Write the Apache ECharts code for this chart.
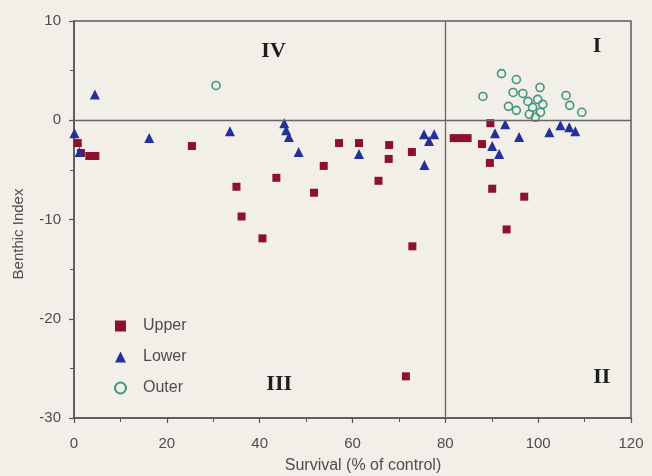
<!DOCTYPE html>
<html>
<head>
<meta charset="utf-8">
<script src="https://cdn.jsdelivr.net/npm/echarts@6/dist/echarts.min.js"></script>
<style>
  html, body { margin: 0; padding: 0; background: #f2eee8; }
  #chart { width: 652px; height: 476px; }
</style>
</head>
<body>
<div id="chart"></div>
<script>
// Survival (% of control) vs. Benthic Index, grouped by sampling zone
const upper = [
  [0.8, -2.3], [1.5, -3.3], [3.3, -3.6], [4.6, -3.6],
  [25.4, -2.6], [35.0, -6.7], [36.1, -9.7], [40.6, -11.9], [43.6, -5.8],
  [51.7, -7.3], [53.8, -4.6], [57.1, -2.3], [61.4, -2.3], [67.9, -2.5],
  [67.8, -3.9], [65.6, -6.1], [72.8, -3.2], [72.9, -12.7], [71.5, -25.8],
  [89.7, -0.3], [81.8, -1.8], [83.3, -1.8], [84.8, -1.8], [87.9, -2.4],
  [89.6, -4.3], [90.1, -6.9], [97.0, -7.7], [93.2, -11.0]
];
const lower = [
  [4.5, 2.6], [0.1, -1.3], [1.2, -3.2], [16.2, -1.8], [33.6, -1.1],
  [45.3, -0.3], [45.7, -1.0], [46.3, -1.7], [48.4, -3.2], [61.4, -3.4],
  [75.4, -1.4], [77.6, -1.4], [76.5, -2.1], [75.5, -4.5],
  [92.9, -0.4], [90.7, -1.3], [90.1, -2.6], [91.6, -3.4], [95.9, -1.7],
  [102.4, -1.2], [104.8, -0.5], [106.7, -0.7], [108.0, -1.1]
];
const outer = [
  [30.6, 3.5], [92.1, 4.7], [95.3, 4.1], [88.1, 2.4], [100.4, 3.3],
  [106.0, 2.5], [106.8, 1.5], [109.4, 0.8], [93.6, 1.4], [95.3, 1.0],
  [94.6, 2.8], [96.7, 2.7], [97.8, 1.9], [98.8, 1.3], [99.9, 2.1],
  [100.5, 0.8], [98.1, 0.6], [99.4, 0.3], [101.0, 1.6]
];
const seriesNames = ['Upper', 'Lower', 'Outer'];
const xRange = { min: 0, max: 120, step: 20 };
const yRange = { min: -30, max: 10, step: 10 };
const survivalCut = 80;   // vertical divider
const indexCut = 0;       // horizontal divider
const quadrantNames = ['I', 'II', 'III', 'IV'];
const xTitle = 'Survival (% of control)';
const yTitle = 'Benthic Index';

const axisColor = '#555';
const sansFont = '"Liberation Sans", Arial, sans-serif';

const chart = echarts.init(document.getElementById('chart'), null, { renderer: 'canvas' });

function axisCommon(labelMargin) {
  return {
    type: 'value',
    axisLine: { show: true, onZero: false, lineStyle: { color: axisColor, width: 1.5 } },
    axisTick: { show: true, inside: false, length: 5, lineStyle: { color: axisColor, width: 1.2 } },
    minorTick: { show: true, splitNumber: 2, length: 4, lineStyle: { color: axisColor, width: 1 } },
    splitLine: { show: false },
    axisLabel: { color: '#4d4d4d', fontSize: 15, fontFamily: sansFont, margin: labelMargin }
  };
}

const option = {
  animation: false,
  backgroundColor: '#f2eee8',
  grid: {
    left: 74, top: 21, width: 557, height: 397,
    show: true, borderColor: '#5c5c5c', borderWidth: 1.5, backgroundColor: 'transparent'
  },
  xAxis: Object.assign(axisCommon(18), {
    min: xRange.min, max: xRange.max, interval: xRange.step
  }),
  yAxis: Object.assign(axisCommon(13), {
    min: yRange.min, max: yRange.max, interval: yRange.step
  }),
  legend: {
    orient: 'vertical',
    left: 109, top: 313,
    itemWidth: 11, itemHeight: 11, itemGap: 15,
    textStyle: { color: '#4d4d4d', fontSize: 16, fontFamily: sansFont, padding: [0, 0, 0, 12] },
    data: seriesNames
  },
  series: [
    {
      name: seriesNames[0], type: 'scatter', data: upper,
      symbol: 'rect', symbolSize: 8,
      itemStyle: { color: '#8c1030', opacity: 1 },
      markLine: {
        silent: true, symbol: ['none', 'none'], label: { show: false },
        lineStyle: { color: '#666', width: 1.3, type: 'solid' },
        data: [{ xAxis: survivalCut }, { yAxis: indexCut }]
      }
    },
    {
      name: seriesNames[1], type: 'scatter', data: lower,
      symbol: 'triangle', symbolSize: 10,
      itemStyle: { color: '#23309a', opacity: 1 }
    },
    {
      name: seriesNames[2], type: 'scatter', data: outer,
      symbol: 'circle', symbolSize: 8,
      itemStyle: { color: 'transparent', borderColor: '#3f9580', borderWidth: 1.6, opacity: 1 }
    }
  ]
};

chart.setOption(option);

// Quadrant labels (data-space anchors) and axis titles
const quadrantAnchors = { I: [112.7, 7.5], II: [113.7, -25.9], III: [44.2, -26.6], IV: [43.0, 6.9] };
const graphics = quadrantNames.map(function (q) {
  const p = chart.convertToPixel({ gridIndex: 0 }, quadrantAnchors[q]);
  return {
    type: 'text', x: p[0], y: p[1], silent: true,
    style: {
      text: q, fill: '#1e1e1e', font: 'bold 22px "Liberation Serif", "Times New Roman", serif',
      textAlign: 'center', textVerticalAlign: 'middle'
    }
  };
});
graphics.push({
  type: 'text', x: 363, y: 466, silent: true,
  style: { text: xTitle, fill: '#4d4d4d', font: '16px ' + sansFont, textAlign: 'center', textVerticalAlign: 'middle' }
});
graphics.push({
  type: 'text', x: 19, y: 234, rotation: Math.PI / 2, silent: true,
  style: { text: yTitle, fill: '#4d4d4d', font: '15px ' + sansFont, textAlign: 'center', textVerticalAlign: 'middle' }
});
chart.setOption({ graphic: graphics });
</script>
</body>
</html>
